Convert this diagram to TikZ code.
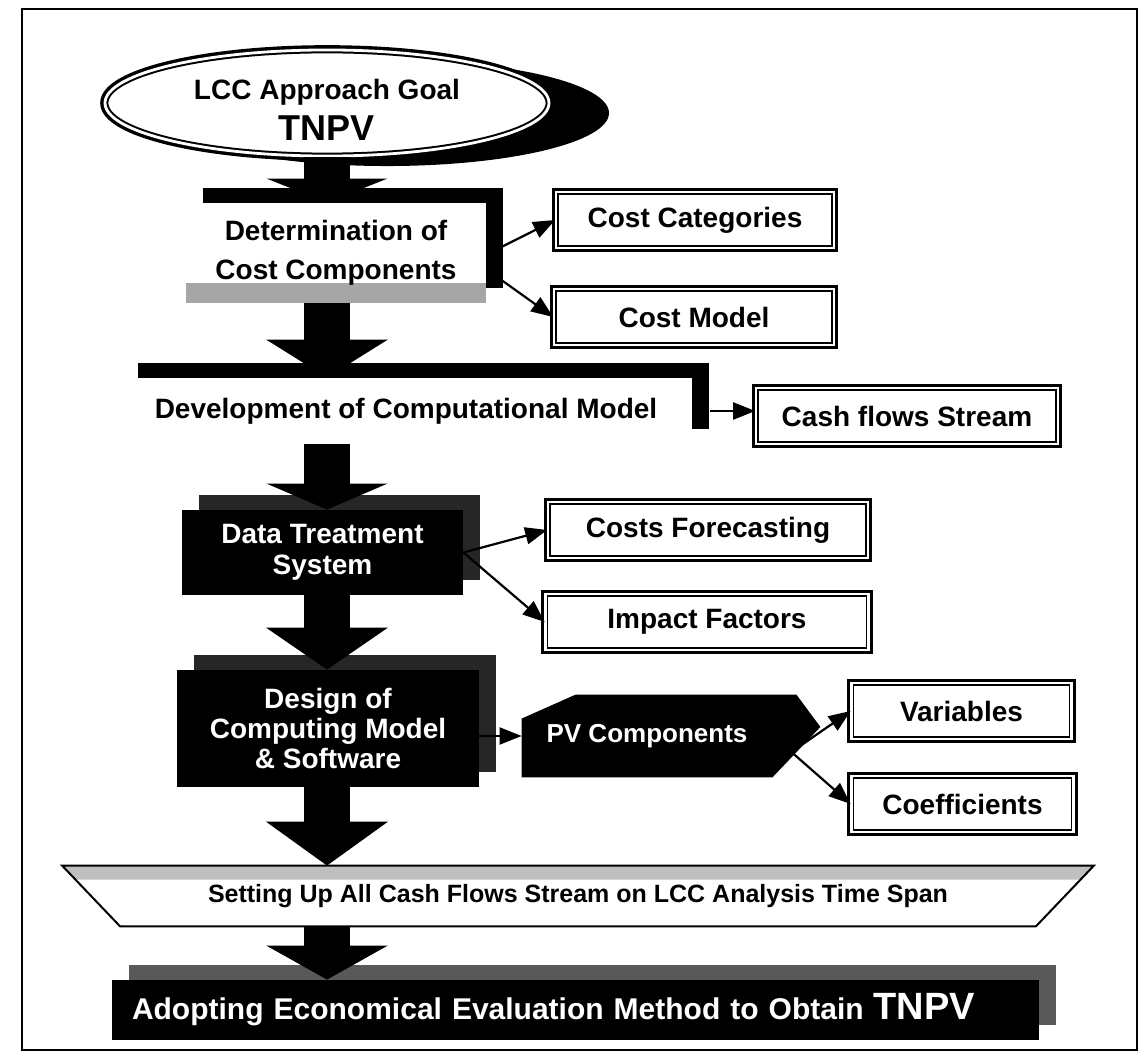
\documentclass[tikz,border=0pt]{standalone}
\usepackage{fontspec}
\setmainfont{Liberation Sans}
\usetikzlibrary{shapes.geometric,shadows,arrows.meta,backgrounds}

\begin{document}
\begin{tikzpicture}[
    x=0.5pt, y=-0.5pt,
    every node/.style={font=\bfseries\fontsize{14}{16}\selectfont},
    goal/.style={ellipse,draw,fill=white,line width=1pt,double,double distance=1.4pt,preaction={draw,line width=4.8pt},
        minimum width=222pt,minimum height=52pt,inner sep=0pt,align=center,
        font=\bfseries\fontsize{14}{20.5}\selectfont,
        drop shadow={shadow xshift=30pt,shadow yshift=-5pt,fill=black,opacity=1}},
    stage/.style={rectangle,fill=white,align=center,
        drop shadow={shadow xshift=8.5pt,shadow yshift=7.5pt,fill=black,opacity=1}},
    darkstage/.style={rectangle,fill=black,text=white,align=center,
        drop shadow={shadow xshift=8.5pt,shadow yshift=7.5pt,fill=#1,opacity=1}},
    darkstage/.default=black!85,
    box/.style={rectangle,draw,fill=white,line width=0.8pt,double,double distance=1.2pt,preaction={draw,line width=4.4pt},minimum height=28pt},
    arr/.style={line width=1.1pt,-{Triangle[length=11pt,width=8.5pt]}},
    bigarrow/.style={line width=23pt,-{Triangle[length=#1,width=60pt]}},
    bigarrow/.default=18pt
    ]
    \useasboundingbox (0,0) rectangle (1147,1064);
    \draw[line width=1.2pt] (22,9) rectangle (1137,1050);

    \node (goal) [goal] at (327,103) {\rule{0pt}{17pt}LCC Approach Goal\\{\fontsize{18}{20.5}\selectfont TNPV}};
    \node (det) [stage,minimum width=150pt,minimum height=50pt,font=\bfseries\fontsize{14}{19.5}\selectfont,
        path picture={\fill[black!35] ([yshift=10pt]path picture bounding box.south west) rectangle (path picture bounding box.south east);}]
        at (336,253) {Determination of\\Cost Components};
    \node (cat) [box,minimum width=139pt] at (695,220) {Cost Categories};
    \node (cmodel) [box,minimum width=140pt] at (694,317) {Cost Model};
    \node (dev) [stage,minimum width=285.5pt,minimum height=33pt] at (406,411) {Development of Computational Model};
    \node (cash) [box,minimum width=151pt] at (907,416) {Cash flows Stream};
    \node (data) [darkstage,minimum width=140.5pt,minimum height=42.5pt,font=\bfseries\fontsize{14}{15.5}\selectfont] at (322.5,552.5) {Data Treatment\\System};
    \node (fcast) [box,minimum width=160pt] at (708,530) {Costs Forecasting};
    \node (impact) [box,minimum width=161.5pt] at (707,622) {Impact Factors};
    \node (design) [darkstage,minimum width=151pt,minimum height=58.5pt,font=\bfseries\fontsize{14}{15}\selectfont] at (328,728.5) {Design of\\Computing Model\\\& Software};
    \node (pv) [minimum width=125pt,minimum height=41pt,text=white,font=\bfseries\fontsize{13}{15}\selectfont] at (647,736) {PV Components};
    \node (var) [box,minimum width=110pt] at (961.5,711) {Variables};
    \node (coef) [box,minimum width=111pt] at (962.5,804) {Coefficients};
    \node (setup) [minimum width=515.5pt,minimum height=30pt,font=\bfseries\fontsize{12.5}{14}\selectfont] at (578,896) {Setting Up All Cash Flows Stream on LCC Analysis Time Span};
    \node (adopt) [darkstage=black!65,minimum height=30pt,text width=443.5pt,inner xsep=10pt,align=left,font=\bfseries\fontsize{15}{17}\selectfont] at (575.5,1010) {Adopting Economical Evaluation Method to Obtain {\fontsize{19}{20}\selectfont TNPV}};

    \begin{scope}[on background layer]
      \fill ([yshift=-12pt]pv.north west) -- ([xshift=27pt]pv.north west) -- ([xshift=12pt]pv.north east) -- ([xshift=24pt,yshift=4.5pt]pv.east) -- (pv.south east) -- (pv.south west) -- cycle;
      \fill[black!25] (setup.north west) -- (setup.north east) -- ([xshift=-7pt,yshift=-7pt]setup.north east) -- ([xshift=7pt,yshift=-7pt]setup.north west) -- cycle;
      \draw[line width=1pt] (setup.north west) -- (setup.north east) -- ([xshift=-29pt]setup.south east) -- ([xshift=29pt]setup.south west) -- cycle;
    \end{scope}

    \draw[bigarrow=12pt] (goal.south) -- (goal.south |- det.north);
    \draw[bigarrow=19pt] (det.south -| goal) -- (dev.north -| goal);
    \draw[bigarrow=13pt] (dev.south -| goal) -- (data.north -| goal);
    \draw[bigarrow=21pt] (data.south -| goal) -- (design.north -| goal);
    \draw[bigarrow=22pt] (design.south -| goal) -- (setup.north -| goal);
    \draw[bigarrow=17pt] (setup.south -| goal) -- (adopt.north -| goal);

    \draw[arr] ([xshift=7.5pt,yshift=3pt]det.east) -- (cat.west);
    \draw[arr] ([xshift=7.5pt,yshift=-13.5pt]det.east) -- (cmodel.west);
    \draw[arr] ([xshift=9pt]dev.east) -- (cash.west |- dev.east);
    \draw[arr] (data.east) -- (fcast.west);
    \draw[arr] (data.east) -- (impact.west);
    \draw[arr] (pv.west -| design.east) -- (pv.west);
    \draw[arr] ([xshift=9.5pt,yshift=-8pt]pv.east) -- (var.west);
    \draw[arr] ([xshift=9.5pt,yshift=-8pt]pv.east) -- (coef.west);
\end{tikzpicture}
\end{document}
